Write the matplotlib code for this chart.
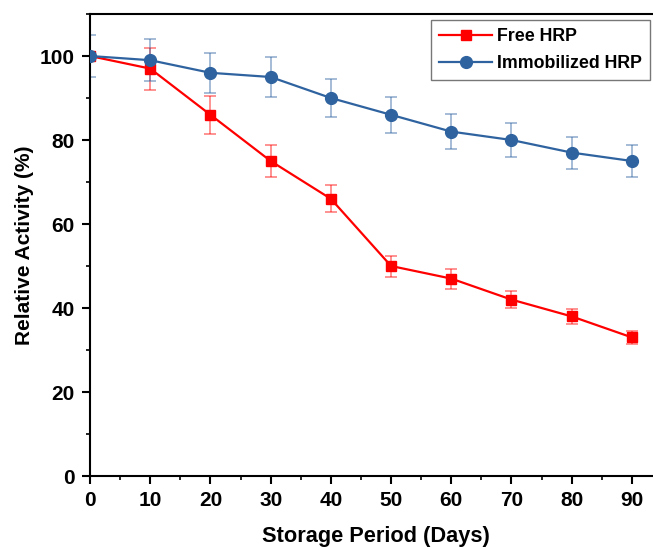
import matplotlib
matplotlib.use("Agg")
import matplotlib.pyplot as plt
from matplotlib.ticker import MultipleLocator

days = [0, 10, 20, 30, 40, 50, 60, 70, 80, 90]
free_hrp = [100, 97, 86, 75, 66, 50, 47, 42, 38, 33]
free_err = [1.0, 5.0, 4.5, 3.7, 3.2, 2.5, 2.4, 2.0, 1.8, 1.5]
immob_hrp = [100, 99, 96, 95, 90, 86, 82, 80, 77, 75]
immob_err = [5.0, 5.0, 4.8, 4.8, 4.5, 4.3, 4.1, 4.0, 3.8, 3.7]

plt.rcParams['font.family'] = ['Liberation Sans', 'DejaVu Sans']
plt.rcParams['font.weight'] = 'bold'

fig = plt.figure(figsize=(6.53, 5.5), dpi=100)
ax = fig.add_axes([90/653, 74/550, 572/653, 462/550])

red = '#FF0000'
blue = '#2F63A0'

ax.errorbar(days, free_hrp, yerr=free_err, fmt='none', ecolor=red, alpha=0.5,
            elinewidth=1.2, capsize=4, capthick=1.2, zorder=2)
ax.plot(days, free_hrp, color=red, marker='s', markersize=7.5, lw=1.6,
        label='Free HRP', zorder=3)
ax.errorbar(days, immob_hrp, yerr=immob_err, fmt='none', ecolor=blue, alpha=0.5,
            elinewidth=1.2, capsize=4, capthick=1.2, zorder=2)
ax.plot(days, immob_hrp, color=blue, marker='o', markersize=8.5, lw=1.6,
        label='Immobilized HRP', zorder=3)

ax.set_xlim(0, 95)
ax.set_ylim(0, 110)
ax.xaxis.set_major_locator(MultipleLocator(10))
ax.xaxis.set_minor_locator(MultipleLocator(5))
ax.yaxis.set_major_locator(MultipleLocator(20))
ax.yaxis.set_minor_locator(MultipleLocator(10))
ax.tick_params(which='major', direction='out', length=5.5, width=1.5, labelsize=15)
ax.tick_params(axis='y', which='major', pad=5.5)
ax.tick_params(axis='x', which='major', pad=5)
ax.tick_params(which='minor', direction='out', length=3, width=1.2)
for s in ax.spines.values():
    s.set_linewidth(1.5)
ax.spines['right'].set_visible(False)

ax.set_xlabel('Storage Period (Days)', fontsize=15.7, fontweight='bold', labelpad=12)
ax.set_ylabel('Relative Activity (%)', fontsize=15, fontweight='bold', labelpad=4)

leg = ax.legend(loc='upper left', bbox_to_anchor=(341/572, 1 - 6/462), fontsize=12.8,
                frameon=True, fancybox=False, edgecolor='#555555',
                handlelength=3.0, borderpad=0.45, borderaxespad=0,
                labelspacing=0.55, handletextpad=0.25)
leg.get_frame().set_linewidth(1.0)
for t in leg.get_texts():
    t.set_fontweight('bold')

fig.savefig('out.png', dpi=100)
